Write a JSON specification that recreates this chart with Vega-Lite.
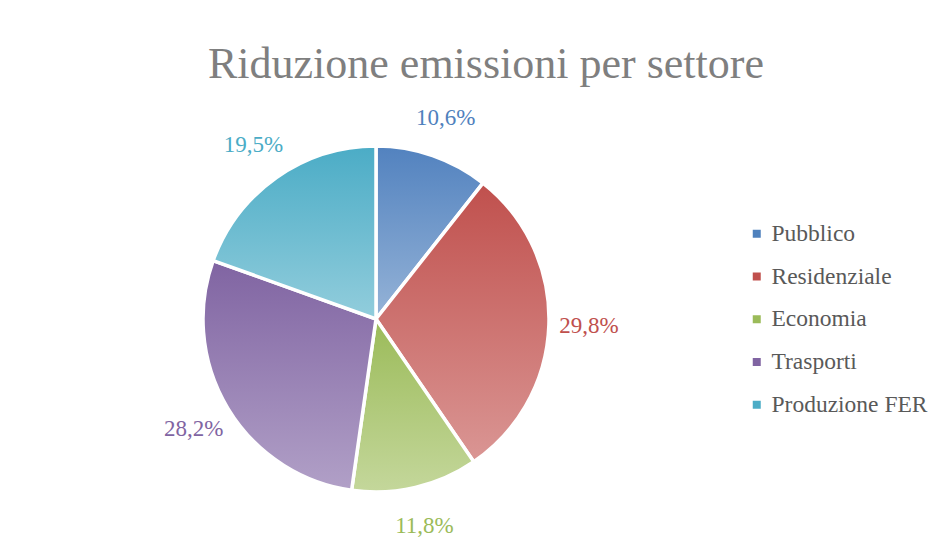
{
  "$schema": "https://vega.github.io/schema/vega-lite/v6.json",
  "autosize": "none",
  "width": 600,
  "height": 400,
  "padding": {"left": 76, "top": 119, "right": 266, "bottom": 26},
  "background": "white",
  "config": {"view": {"stroke": null}},
  "title": {
    "text": "Riduzione emissioni per settore",
    "font": "Liberation Serif",
    "fontSize": 44,
    "fontWeight": "normal",
    "color": "#7f7f7f",
    "anchor": "middle",
    "frame": "group",
    "baseline": "alphabetic",
    "offset": 44,
    "dy": 59,
    "dx": 110
  },
  "data": {
    "values": [
      {"k": "Pubblico", "value": 10.6, "label": "10,6%", "ord": 1},
      {"k": "Residenziale", "value": 29.8, "label": "29,8%", "ord": 2},
      {"k": "Economia", "value": 11.8, "label": "11,8%", "ord": 3},
      {"k": "Trasporti", "value": 28.2, "label": "28,2%", "ord": 4},
      {"k": "Produzione FER", "value": 19.5, "label": "19,5%", "ord": 5}
    ]
  },
  "layer": [
    {
      "mark": {"type": "arc", "radius": 173},
      "encoding": {
        "theta": {"field": "value", "type": "quantitative", "stack": true},
        "order": {"field": "ord", "type": "quantitative"},
        "color": {
          "field": "k",
          "type": "nominal",
          "sort": null,
          "scale": {
            "domain": ["Pubblico", "Residenziale", "Economia", "Trasporti", "Produzione FER"],
            "range": ["#4F81BD", "#C0504D", "#9BBB59", "#8064A2", "#4BACC6"]
          },
          "legend": {
            "title": null,
            "orient": "none",
            "legendX": 669,
            "legendY": 103,
            "padding": 0,
            "symbolType": "square",
            "symbolSize": 64,
            "symbolStrokeWidth": 0,
            "labelFont": "Liberation Serif",
            "labelFontSize": 23.5,
            "labelColor": "#595959",
            "labelOffset": 3,
            "rowPadding": 17.75,
            "labelLimit": 300
          }
        }
      }
    },
    {
      "mark": {"type": "arc", "radius": 173, "stroke": "white", "strokeWidth": 3.5},
      "encoding": {
        "theta": {"field": "value", "type": "quantitative", "stack": true},
        "order": {"field": "ord", "type": "quantitative"},
        "fill": {
          "condition": [
            {"test": "datum.k === 'Pubblico'", "value": {"gradient": "linear", "x1": 0, "y1": 0, "x2": 0, "y2": 1, "stops": [{"offset": 0, "color": "#5282BF"}, {"offset": 1, "color": "#95B3D7"}]}},
            {"test": "datum.k === 'Residenziale'", "value": {"gradient": "linear", "x1": 0, "y1": 0, "x2": 0, "y2": 1, "stops": [{"offset": 0, "color": "#C0504D"}, {"offset": 1, "color": "#DA9694"}]}},
            {"test": "datum.k === 'Economia'", "value": {"gradient": "linear", "x1": 0, "y1": 0, "x2": 0, "y2": 1, "stops": [{"offset": 0, "color": "#9BBB59"}, {"offset": 1, "color": "#C4D79B"}]}},
            {"test": "datum.k === 'Trasporti'", "value": {"gradient": "linear", "x1": 0, "y1": 0, "x2": 0, "y2": 1, "stops": [{"offset": 0, "color": "#8064A2"}, {"offset": 1, "color": "#B1A0C7"}]}}
          ],
          "value": {"gradient": "linear", "x1": 0, "y1": 0, "x2": 0, "y2": 1, "stops": [{"offset": 0, "color": "#4BACC6"}, {"offset": 1, "color": "#92CDDC"}]}
        }
      }
    },
    {
      "mark": {"type": "text", "radius": 213, "font": "Liberation Serif", "fontSize": 23, "align": "center", "baseline": "middle"},
      "encoding": {
        "theta": {"field": "value", "type": "quantitative", "stack": true},
        "order": {"field": "ord", "type": "quantitative"},
        "text": {"field": "label", "type": "nominal"},
        "color": {"field": "k", "type": "nominal", "sort": null, "legend": null}
      }
    }
  ]
}
